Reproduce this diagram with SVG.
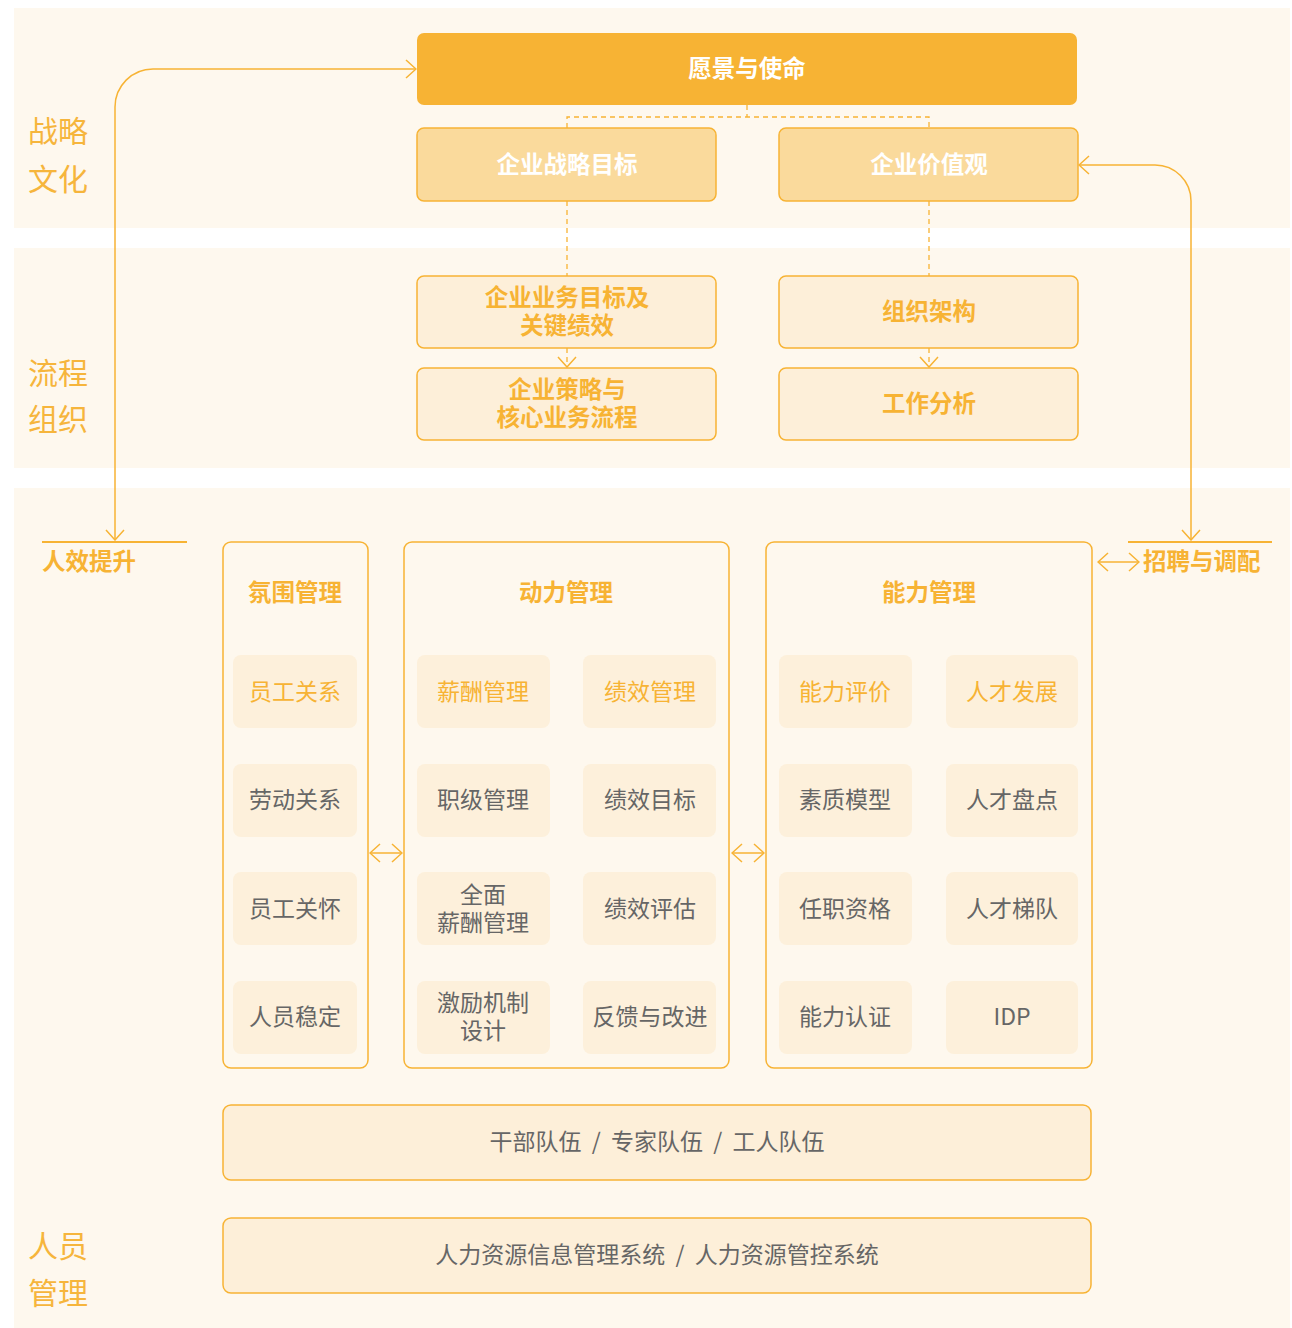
<svg xmlns="http://www.w3.org/2000/svg" width="1292" height="1328" viewBox="0 0 1292 1328">
<defs>
<marker id="chev" markerUnits="userSpaceOnUse" viewBox="-1 -1 12 20" refX="10" refY="9" markerWidth="12" markerHeight="20" orient="auto-start-reverse">
<path d="M0,0 L10,9 L0,18" fill="none" stroke="#F7B334" stroke-width="1.5"/>
</marker>
<style>
text{font-family:"Noto Sans CJK SC","Noto Sans",sans-serif;dominant-baseline:central;text-anchor:middle}
.band{fill:#FEF8EE}
.sec{font-size:30px;fill:#F6B53C;text-anchor:start}
.top{fill:#F7B334}
.mid{fill:#FADA9C;stroke:#F7B334;stroke-width:1.5}
.low{fill:#FDEFD9;stroke:#F7B334;stroke-width:1.5}
.panel{fill:#FEF8EE;stroke:#F7B334;stroke-width:1.5}
.cell{fill:#FDF0DB}
.w{font-size:23.5px;font-weight:700;fill:#FFFFFF}
.o{font-size:23.5px;font-weight:700;fill:#F7B334}
.t{font-size:23px;fill:#F7B334}
.g{font-size:23px;fill:#666666}
.ln{fill:none;stroke:#F7B334;stroke-width:1.5}
.dash{fill:none;stroke:#F7B334;stroke-width:1.3;stroke-dasharray:5,4}
</style>
</defs>

<rect class="band" x="14" y="8" width="1276" height="220"/>
<rect class="band" x="14" y="248" width="1276" height="220"/>
<rect class="band" x="14" y="488" width="1276" height="840"/>

<g id="labels">
<text class="sec" x="28" y="129">战略</text>
<text class="sec" x="28" y="177">文化</text>
<text class="sec" x="28" y="371">流程</text>
<text class="sec" x="28" y="417">组织</text>
<text class="sec" x="28" y="1244">人员</text>
<text class="sec" x="28" y="1291">管理</text>
</g>

<g id="connectors">
<path class="dash" d="M747,105 V117 M567,128 V117 H929 V128"/>
<path class="dash" d="M567,201 V276"/>
<path class="dash" d="M929,201 V276"/>
<path class="dash" d="M567,348 V367" marker-end="url(#chev)"/>
<path class="dash" d="M929,348 V367" marker-end="url(#chev)"/>
<path class="ln" d="M115,540 V107 A38,38 0 0 1 153,69 H416" marker-start="url(#chev)" marker-end="url(#chev)"/>
<path class="ln" d="M1079,165 H1155 A36,36 0 0 1 1191,201 V540" marker-start="url(#chev)" marker-end="url(#chev)"/>
<line x1="42" y1="542" x2="187" y2="542" stroke="#F7B334" stroke-width="2"/>
<line x1="1128" y1="542" x2="1272" y2="542" stroke="#F7B334" stroke-width="2"/>
<path class="ln" d="M1098,562 H1139" marker-start="url(#chev)" marker-end="url(#chev)"/>
<path class="ln" d="M370,853 H402" marker-start="url(#chev)" marker-end="url(#chev)"/>
<path class="ln" d="M732,853 H764" marker-start="url(#chev)" marker-end="url(#chev)"/>
</g>

<g id="n-vision"><rect class="top" x="417" y="33" width="660" height="72" rx="7"/><text class="w" x="747" y="67">愿景与使命</text></g>
<g id="n-goal"><rect class="mid" x="417" y="128" width="299" height="73" rx="7"/><text class="w" x="567" y="163">企业战略目标</text></g>
<g id="n-value"><rect class="mid" x="779" y="128" width="299" height="73" rx="7"/><text class="w" x="929" y="163">企业价值观</text></g>
<g id="n-biz"><rect class="low" x="417" y="276" width="299" height="72" rx="7"/><text class="o" x="567" y="296">企业业务目标及</text><text class="o" x="567" y="324">关键绩效</text></g>
<g id="n-strategy"><rect class="low" x="417" y="368" width="299" height="72" rx="7"/><text class="o" x="567" y="388">企业策略与</text><text class="o" x="567" y="416">核心业务流程</text></g>
<g id="n-org"><rect class="low" x="779" y="276" width="299" height="72" rx="7"/><text class="o" x="929" y="310">组织架构</text></g>
<g id="n-job"><rect class="low" x="779" y="368" width="299" height="72" rx="7"/><text class="o" x="929" y="402">工作分析</text></g>

<g id="n-renxiao"><text class="o" x="42" y="560" style="text-anchor:start">人效提升</text></g>
<g id="n-zhaopin"><text class="o" x="1143" y="560" style="text-anchor:start">招聘与调配</text></g>

<g id="n-atmos">
<rect class="panel" x="223" y="542" width="145" height="526" rx="8"/>
<text class="o" x="295" y="591">氛围管理</text>
<rect class="cell" x="233" y="655" width="124" height="73" rx="8"/><text class="t" x="295" y="690">员工关系</text>
<rect class="cell" x="233" y="764" width="124" height="73" rx="8"/><text class="g" x="295" y="798">劳动关系</text>
<rect class="cell" x="233" y="872" width="124" height="73" rx="8"/><text class="g" x="295" y="907">员工关怀</text>
<rect class="cell" x="233" y="981" width="124" height="73" rx="8"/><text class="g" x="295" y="1015">人员稳定</text>
</g>

<g id="n-drive">
<rect class="panel" x="404" y="542" width="325" height="526" rx="8"/>
<text class="o" x="566" y="591">动力管理</text>
<rect class="cell" x="417" y="655" width="133" height="73" rx="8"/><text class="t" x="483" y="690">薪酬管理</text>
<rect class="cell" x="583" y="655" width="133" height="73" rx="8"/><text class="t" x="650" y="690">绩效管理</text>
<rect class="cell" x="417" y="764" width="133" height="73" rx="8"/><text class="g" x="483" y="798">职级管理</text>
<rect class="cell" x="583" y="764" width="133" height="73" rx="8"/><text class="g" x="650" y="798">绩效目标</text>
<rect class="cell" x="417" y="872" width="133" height="73" rx="8"/><text class="g" x="483" y="893">全面</text><text class="g" x="483" y="921">薪酬管理</text>
<rect class="cell" x="583" y="872" width="133" height="73" rx="8"/><text class="g" x="650" y="907">绩效评估</text>
<rect class="cell" x="417" y="981" width="133" height="73" rx="8"/><text class="g" x="483" y="1001">激励机制</text><text class="g" x="483" y="1029">设计</text>
<rect class="cell" x="583" y="981" width="133" height="73" rx="8"/><text class="g" x="650" y="1015">反馈与改进</text>
</g>

<g id="n-ability">
<rect class="panel" x="766" y="542" width="326" height="526" rx="8"/>
<text class="o" x="929" y="591">能力管理</text>
<rect class="cell" x="779" y="655" width="133" height="73" rx="8"/><text class="t" x="845" y="690">能力评价</text>
<rect class="cell" x="946" y="655" width="132" height="73" rx="8"/><text class="t" x="1012" y="690">人才发展</text>
<rect class="cell" x="779" y="764" width="133" height="73" rx="8"/><text class="g" x="845" y="798">素质模型</text>
<rect class="cell" x="946" y="764" width="132" height="73" rx="8"/><text class="g" x="1012" y="798">人才盘点</text>
<rect class="cell" x="779" y="872" width="133" height="73" rx="8"/><text class="g" x="845" y="907">任职资格</text>
<rect class="cell" x="946" y="872" width="132" height="73" rx="8"/><text class="g" x="1012" y="907">人才梯队</text>
<rect class="cell" x="779" y="981" width="133" height="73" rx="8"/><text class="g" x="845" y="1015">能力认证</text>
<rect class="cell" x="946" y="981" width="132" height="73" rx="8"/><text class="g" x="1012" y="1015">IDP</text>
</g>

<g id="n-team"><rect class="low" x="223" y="1105" width="868" height="75" rx="8"/><text class="g" x="657" y="1140">干部队伍&#160;&#160;/&#160;&#160;专家队伍&#160;&#160;/&#160;&#160;工人队伍</text></g>
<g id="n-system"><rect class="low" x="223" y="1218" width="868" height="75" rx="8"/><text class="g" x="657" y="1253">人力资源信息管理系统&#160;&#160;/&#160;&#160;人力资源管控系统</text></g>
</svg>
